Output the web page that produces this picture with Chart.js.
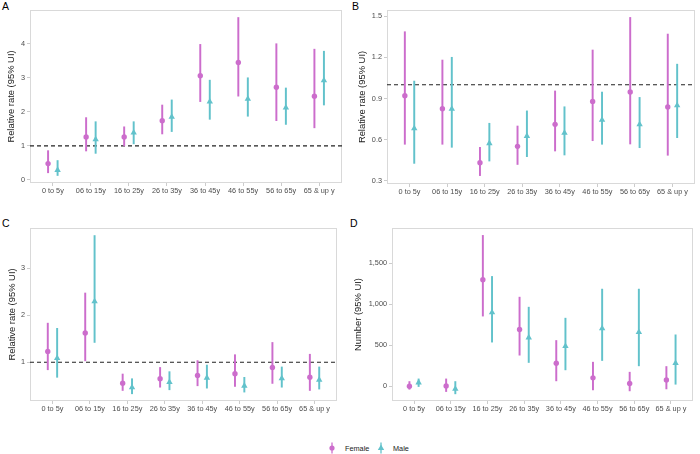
<!DOCTYPE html>
<html>
<head>
<meta charset="utf-8">
<script src="https://cdn.jsdelivr.net/npm/chart.js@4/dist/chart.umd.min.js"></script>
<style>
  html, body { margin:0; padding:0; background:#fff; }
  body { width:700px; height:454px; position:relative; overflow:hidden; font-family:"Liberation Sans", Arial, sans-serif; }
  canvas { position:absolute; }
  .lab { position:absolute; font-size:10.5px; color:#000; line-height:1; }
  .leg { position:absolute; font-size:7.3px; color:#1a1a1a; line-height:1; }
</style>
</head>
<body>
<div class="lab" style="left:2px; top:1px;">A</div>
<div class="lab" style="left:352px; top:1px;">B</div>
<div class="lab" style="left:2px; top:218px;">C</div>
<div class="lab" style="left:350px; top:218px;">D</div>

<canvas id="cA" width="350" height="200" style="left:0; top:0;"></canvas>
<canvas id="cB" width="350" height="200" style="left:350px; top:0;"></canvas>
<canvas id="cC" width="350" height="220" style="left:0; top:200px;"></canvas>
<canvas id="cD" width="350" height="220" style="left:350px; top:200px;"></canvas>

<svg style="position:absolute; left:326px; top:441px;" width="12" height="14">
  <line x1="6" y1="1.5" x2="6" y2="12.5" stroke="#CC6DCC" stroke-width="1.3"/>
  <circle cx="6" cy="7" r="2.6" fill="#CC6DCC"/>
</svg>
<div class="leg" style="left:345px; top:444.5px;">Female</div>
<svg style="position:absolute; left:375px; top:441px;" width="12" height="14">
  <line x1="6" y1="1.5" x2="6" y2="12.5" stroke="#62C2CB" stroke-width="1.3"/>
  <polygon points="6,3.6 9.2,9 2.8,9" fill="#62C2CB"/>
</svg>
<div class="leg" style="left:393px; top:444.5px;">Male</div>

<script>
const categories = ["0 to 5y","06 to 15y","16 to 25y","26 to 35y","36 to 45y","46 to 55y","56 to 65y","65 & up y"];

// Panel A
const femaleA   = [0.48, 1.26, 1.26, 1.74, 3.06, 3.45, 2.72, 2.46];
const femaleALo = [0.21, 0.85, 1.00, 1.35, 2.30, 2.46, 1.74, 1.53];
const femaleAHi = [0.86, 1.83, 1.56, 2.20, 3.98, 4.77, 4.00, 3.84];
const maleA     = [0.29, 1.19, 1.39, 1.85, 2.30, 2.38, 2.12, 2.92];
const maleALo   = [0.13, 0.78, 1.06, 1.42, 1.78, 1.87, 1.63, 2.20];
const maleAHi   = [0.57, 1.71, 1.71, 2.35, 2.93, 3.00, 2.70, 3.78];
const ticksA    = [0, 1, 2, 3, 4];

// Panel B
const femaleB   = [0.920, 0.826, 0.433, 0.552, 0.712, 0.879, 0.947, 0.838];
const femaleBLo = [0.567, 0.567, 0.339, 0.420, 0.518, 0.593, 0.569, 0.487];
const femaleBHi = [1.386, 1.180, 0.545, 0.700, 0.955, 1.253, 1.490, 1.369];
const maleB     = [0.683, 0.824, 0.574, 0.627, 0.649, 0.744, 0.712, 0.850];
const maleBLo   = [0.428, 0.545, 0.445, 0.477, 0.489, 0.567, 0.542, 0.615];
const maleBHi   = [1.027, 1.200, 0.720, 0.810, 0.840, 0.947, 0.908, 1.150];
const ticksB    = [0.3, 0.6, 0.9, 1.2, 1.5];

// Panel C
const femaleC   = [1.23, 1.62, 0.556, 0.65, 0.72, 0.754, 0.887, 0.683];
const femaleCLo = [0.84, 1.03, 0.40, 0.47, 0.50, 0.486, 0.55, 0.40];
const femaleCHi = [1.83, 2.47, 0.75, 0.89, 1.035, 1.16, 1.42, 1.17];
const maleC     = [1.085, 2.29, 0.465, 0.577, 0.67, 0.50, 0.655, 0.627];
const maleCLo   = [0.68, 1.42, 0.33, 0.415, 0.45, 0.366, 0.47, 0.43];
const maleCHi   = [1.72, 3.69, 0.65, 0.80, 0.94, 0.68, 0.90, 0.90];
const ticksC    = [1, 2, 3];

// Panel D
const femaleD   = [0, 4, 1297, 691, 280, 102, 33, 77];
const femaleDLo = [-37, -65, 854, 378, 65, -45, -57, -33];
const femaleDHi = [57, 89, 1837, 1085, 557, 293, 171, 240];
const maleD     = [45, -33, 898, 593, 488, 703, 659, 280];
const maleDLo   = [-4, -93, 537, 289, 199, 313, 248, 24];
const maleDHi   = [89, 57, 1337, 963, 829, 1183, 1183, 626];
const ticksD    = [0, 500, 1000, 1500];

const FEMALE = '#CC6DCC';
const MALE = '#62C2CB';
const FONT = '"Liberation Sans", Arial, sans-serif';

const framePlugin = {
  id: 'frame',
  beforeDatasetsDraw(chart) {
    const a = chart.chartArea, ctx = chart.ctx;
    ctx.save();
    ctx.strokeStyle = '#D9D9D9';
    ctx.lineWidth = 1;
    ctx.strokeRect(a.left + 0.5, a.top + 0.5, a.right - a.left - 1, a.bottom - a.top - 1);
    ctx.restore();
  }
};

function makeChart(id, cfg) {
  const off = 0.125;
  const datasets = [];
  if (cfg.ref !== null) {
    datasets.push({
      type: 'line', data: [{x: 0.4, y: cfg.ref}, {x: 8.6, y: cfg.ref}],
      borderColor: '#222', borderWidth: 1.1, borderDash: [4, 3],
      pointRadius: 0, order: 5
    });
  }
  datasets.push({
    type: 'bar', label: 'Female CI', grouped: false,
    data: categories.map((c, i) => ({x: i + 1 - off, y: [cfg.fLo[i], cfg.fHi[i]]})),
    backgroundColor: FEMALE, barThickness: 1.3, order: 3
  });
  datasets.push({
    type: 'bar', label: 'Male CI', grouped: false,
    data: categories.map((c, i) => ({x: i + 1 + off, y: [cfg.mLo[i], cfg.mHi[i]]})),
    backgroundColor: MALE, barThickness: 1.3, order: 3
  });
  datasets.push({
    type: 'scatter', label: 'Female',
    data: categories.map((c, i) => ({x: i + 1 - off, y: cfg.f[i]})),
    pointStyle: 'circle', pointRadius: 2.7, backgroundColor: FEMALE, borderColor: FEMALE, borderWidth: 0, order: 1
  });
  datasets.push({
    type: 'scatter', label: 'Male',
    data: categories.map((c, i) => ({x: i + 1 + off, y: cfg.m[i]})),
    pointStyle: 'triangle', pointRadius: 3.7, backgroundColor: MALE, borderColor: MALE, borderWidth: 0, order: 1
  });

  return new Chart(document.getElementById(id), {
    type: 'scatter',
    data: { datasets },
    plugins: [framePlugin],
    options: {
      responsive: false, animation: false, devicePixelRatio: 1,
      layout: { padding: cfg.pad },
      plugins: { legend: { display: false }, tooltip: { enabled: false } },
      scales: {
        x: {
          type: 'linear', min: 0.4, max: 8.6, offset: false,
          afterBuildTicks: s => { s.ticks = categories.map((c, i) => ({value: i + 1})); },
          afterFit: s => { s.height = cfg.xh; },
          ticks: { autoSkip: false, maxRotation: 0, padding: 1, color: '#4D4D4D',
                   font: { family: FONT, size: 7.3 },
                   callback: v => categories[Math.round(v) - 1] },
          grid: { display: true, offset: false, drawOnChartArea: false, drawTicks: true, tickLength: 3, color: '#CCCCCC' },
          border: { display: false }
        },
        y: {
          type: 'linear', min: cfg.min, max: cfg.max,
          afterBuildTicks: s => { s.ticks = cfg.ticks.map(v => ({value: v})); },
          afterFit: s => { s.width = cfg.yw; },
          ticks: { padding: 2, color: '#4D4D4D', font: { family: FONT, size: 7.3 },
                   callback: cfg.fmt },
          grid: { display: true, offset: false, drawOnChartArea: false, drawTicks: true, tickLength: 3, color: '#CCCCCC' },
          border: { display: false },
          title: { display: true, text: cfg.title, color: '#1A1A1A',
                   font: { family: FONT, size: 9.4 }, padding: { top: cfg.tp, bottom: 0 } }
        }
      }
    }
  });
}

makeChart('cA', { f: femaleA, fLo: femaleALo, fHi: femaleAHi, m: maleA, mLo: maleALo, mHi: maleAHi,
  ticks: ticksA, min: -0.09, max: 4.99, ref: 1, title: 'Relative rate (95% UI)',
  fmt: v => String(v), pad: {left: 0, right: 8, top: 10, bottom: 0}, yw: 30, xh: 17, tp: 6 });

makeChart('cB', { f: femaleB, fLo: femaleBLo, fHi: femaleBHi, m: maleB, mLo: maleBLo, mHi: maleBHi,
  ticks: ticksB, min: 0.278, max: 1.544, ref: 1, title: 'Relative rate (95% UI)',
  fmt: v => Number(v).toFixed(1), pad: {left: 0, right: 5, top: 10, bottom: 0}, yw: 37, xh: 16, tp: 7 });

makeChart('cC', { f: femaleC, fLo: femaleCLo, fHi: femaleCHi, m: maleC, mLo: maleCLo, mHi: maleCHi,
  ticks: ticksC, min: 0.177, max: 3.85, ref: 1, title: 'Relative rate (95% UI)',
  fmt: v => String(v), pad: {left: 0, right: 13, top: 28, bottom: 0}, yw: 30, xh: 19, tp: 7 });

makeChart('cD', { f: femaleD, fLo: femaleDLo, fHi: femaleDHi, m: maleD, mLo: maleDLo, mHi: maleDHi,
  ticks: ticksD, min: -180, max: 1927, ref: null, title: 'Number (95% UI)',
  fmt: v => Number(v).toLocaleString('en-US'), pad: {left: 0, right: 7, top: 28, bottom: 0}, yw: 42, xh: 19, tp: 3 });
</script>
</body>
</html>
